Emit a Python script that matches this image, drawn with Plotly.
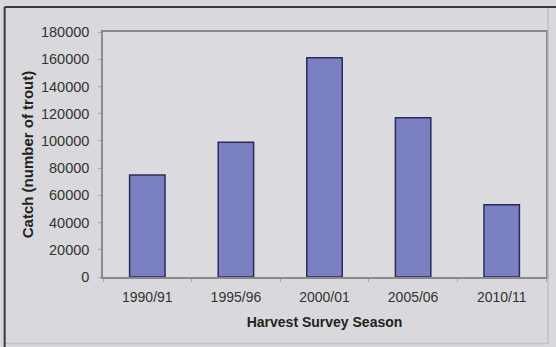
import plotly.graph_objects as go

seasons = ["1990/91", "1995/96", "2000/01", "2005/06", "2010/11"]
catch = [75000, 99000, 161000, 117000, 53000]
y_ticks = [0, 20000, 40000, 60000, 80000, 100000, 120000, 140000, 160000, 180000]

fig = go.Figure(go.Bar(
    x=seasons, y=catch,
    marker=dict(color="#7b80c2", line=dict(color="#2a2c58", width=1.5)),
    width=0.4,
))

font = "Liberation Sans, Arial, sans-serif"
fig.update_layout(
    width=556, height=347,
    margin=dict(l=103, r=8, t=32, b=70),
    paper_bgcolor="#d9d9dd",
    plot_bgcolor="#dcdce0",
    showlegend=False,
    font=dict(family=font, size=14, color="#333333"),
    xaxis=dict(
        showline=True, linecolor="#8a8a8a", linewidth=1.5, mirror=True,
        ticks="outside", ticklen=3, tickcolor="#a8a8a8", tickson="boundaries",
        showgrid=False, ticklabelstandoff=6,
        tickfont=dict(size=14, color="#333333"),
        title=dict(text="<b>Harvest Survey Season</b>", font=dict(size=14, color="#222222"), standoff=14),
    ),
    yaxis=dict(
        range=[0, 180000], tickvals=y_ticks, tickformat="d",
        showline=True, linecolor="#8a8a8a", linewidth=1.5, mirror=True,
        ticks="outside", ticklen=3, tickcolor="#a8a8a8",
        showgrid=False, zeroline=False, ticklabelstandoff=6,
        tickfont=dict(size=14.5, color="#333333"),
        title=dict(text="<b>Catch (number of trout)</b>", font=dict(size=15, color="#222222"), standoff=4),
    ),
    shapes=[
        dict(type="rect", xref="paper", yref="paper", x0=-0.222, x1=1.005, y0=-0.271, y1=1.102,
             line=dict(color="#c0c0c4", width=1.5)),
        dict(type="line", xref="paper", yref="paper", x0=-0.222, x1=1.03, y0=1.102, y1=1.102,
             line=dict(color="#3a3a3a", width=2)),
        dict(type="line", xref="paper", yref="paper", x0=-0.222, x1=-0.222, y0=-0.3, y1=1.102,
             line=dict(color="#3a3a3a", width=2)),
    ],
)

fig.write_html("out.html")
